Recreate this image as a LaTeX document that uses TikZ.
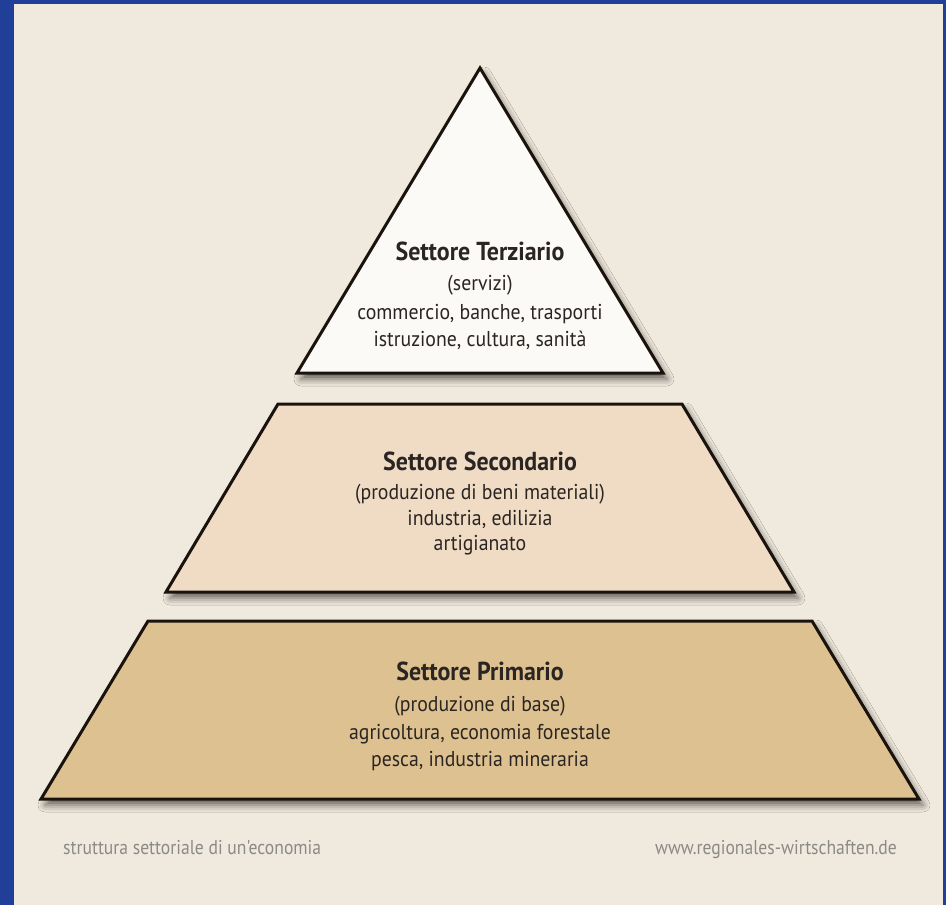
\documentclass[tikz,border=0pt]{standalone}
\usepackage{fontspec}
\setmainfont{PT Sans}
\newfontfamily\condfont[FakeStretch=0.92]{PT Sans}
\newfontfamily\footfont[FakeStretch=0.88]{PT Sans}
\usetikzlibrary{shadows.blur}
\definecolor{frameblue}{HTML}{1F3F99}
\definecolor{panel}{HTML}{F0E9DD}
\definecolor{tfill}{HTML}{FCFAF6}
\definecolor{sfill}{HTML}{F0DCC5}
\definecolor{pfill}{HTML}{DEC190}
\definecolor{edge}{HTML}{1A120C}
\definecolor{txt}{HTML}{2A2522}
\definecolor{foot}{HTML}{8C8A86}
\tikzset{
  band/.style={draw=edge, line width=3pt, line join=miter,
    blur shadow={shadow xshift=4pt, shadow yshift=-6pt, shadow blur radius=7pt, shadow opacity=60}},
  ttl/.style={anchor=base, text=txt, font=\condfont\fontsize{26}{30}\selectfont\bfseries, inner sep=0pt},
  ln/.style={anchor=base, text=txt, font=\condfont\fontsize{21.5}{25}\selectfont, inner sep=0pt},
  ft/.style={anchor=base, text=foot, font=\footfont\fontsize{20}{24}\selectfont, inner sep=0pt}
}
\begin{document}
\begin{tikzpicture}[x=1pt,y=-1pt]
\useasboundingbox (0,0) rectangle (946,905);
\fill[frameblue] (0,0) rectangle (946,905);
\fill[panel] (14,4) rectangle (943,905);
% bands
\path[band, fill=pfill] (148,621) -- (812,621) -- (919,799) -- (41,799) -- cycle;
\path[band, fill=sfill] (278,404) -- (682,404) -- (794,592) -- (166,592) -- cycle;
\path[band, fill=tfill] (480,68) -- (663,373) -- (297,373) -- cycle;
% tertiary
\node[ttl] (t1) at (480,260) {Settore Terziario};
\node[ln] (t2) at (480,290) {(servizi)};
\node[ln] (t3) at (480,319) {commercio, banche, trasporti};
\node[ln] (t4) at (480,346) {istruzione, cultura, sanità};
% secondary
\node[ttl] (s1) at (480,470) {Settore Secondario};
\node[ln] (s2) at (480,499) {(produzione di beni materiali)};
\node[ln] (s3) at (480,525) {industria, edilizia};
\node[ln] (s4) at (480,550) {artigianato};
% primary
\node[ttl] (p1) at (480,680) {Settore Primario};
\node[ln] (p2) at (480,711) {(produzione di base)};
\node[ln] (p3) at (480,739) {agricoltura, economia forestale};
\node[ln] (p4) at (480,766) {pesca, industria mineraria};
% footer
\node[ft, anchor=base west] (f1) at (63,854) {struttura settoriale di un'economia};
\node[ft, anchor=base east] (f2) at (897,854) {www.regionales-wirtschaften.de};
\end{tikzpicture}
\end{document}
